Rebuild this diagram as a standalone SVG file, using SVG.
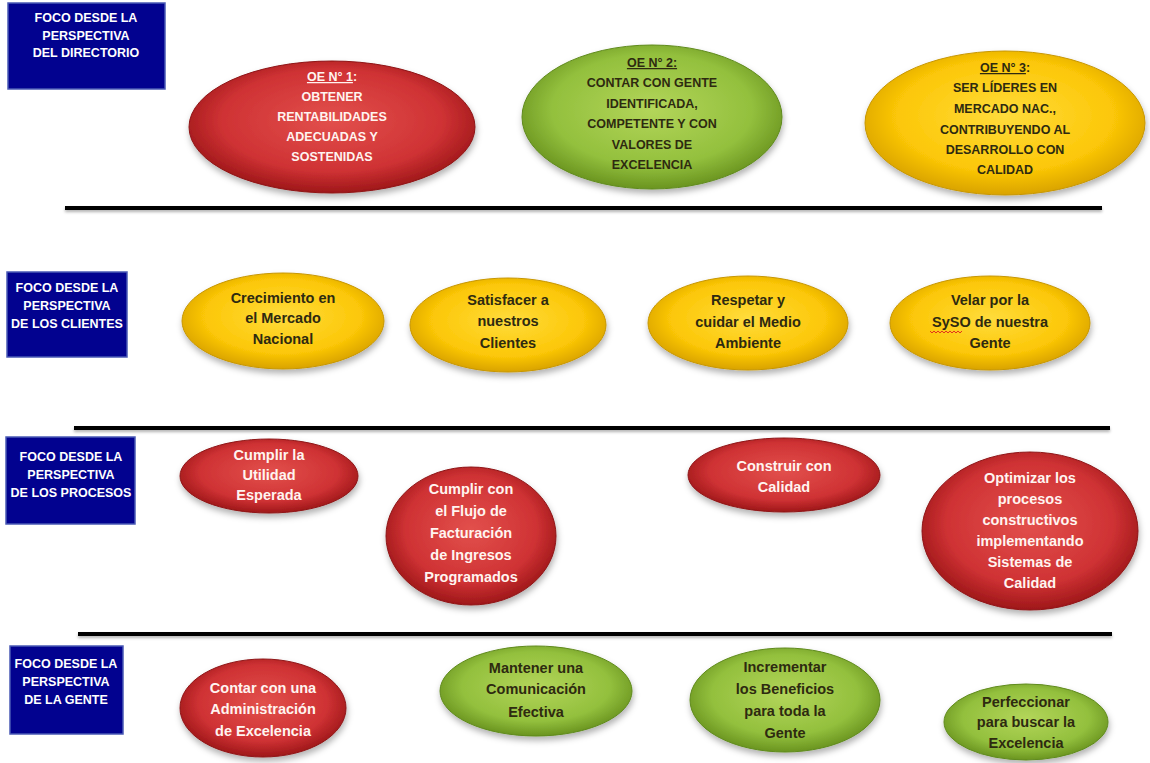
<svg xmlns="http://www.w3.org/2000/svg" width="1150" height="763" viewBox="0 0 1150 763">
<defs>
<radialGradient id="gRed" cx="50%" cy="45%" r="55%">
<stop offset="0" stop-color="#e2504c"/><stop offset="0.7" stop-color="#cf3234"/><stop offset="1" stop-color="#9e1719"/>
</radialGradient>
<radialGradient id="gGreen" cx="50%" cy="45%" r="55%">
<stop offset="0" stop-color="#b3d55a"/><stop offset="0.7" stop-color="#93c03d"/><stop offset="1" stop-color="#6a9420"/>
</radialGradient>
<radialGradient id="gYellow" cx="50%" cy="45%" r="55%">
<stop offset="0" stop-color="#ffdc3c"/><stop offset="0.7" stop-color="#fcc707"/><stop offset="1" stop-color="#d9a300"/>
</radialGradient>
<filter id="sh" x="-20%" y="-20%" width="140%" height="150%">
<feDropShadow dx="1" dy="4" stdDeviation="3" flood-color="#000" flood-opacity="0.3"/>
</filter>
<filter id="lsh" filterUnits="userSpaceOnUse" x="0" y="0" width="1150" height="763">
<feDropShadow dx="0" dy="2" stdDeviation="1.5" flood-color="#000" flood-opacity="0.3"/>
</filter>
</defs>
<style>
text{font-family:"Liberation Sans",Arial,sans-serif;font-weight:bold;text-anchor:middle}
.hdr rect{fill:#02028f;stroke:#4a5ab5;stroke-width:1.5}
.hdr text{fill:#ffffff;font-size:12.5px}
.red ellipse{fill:url(#gRed);stroke:#8e1416;stroke-width:1;filter:url(#sh)}
.green ellipse{fill:url(#gGreen);stroke:#5f8a1c;stroke-width:1;filter:url(#sh)}
.yellow ellipse{fill:url(#gYellow);stroke:#c79600;stroke-width:1;filter:url(#sh)}
.red text{fill:#fff4f0}
.green text,.yellow text{fill:#2e2a10}
.caps text{font-size:12.5px}
.low text{font-size:14.5px}
.sep rect{fill:#000;filter:url(#lsh)}
</style>
<rect width="1150" height="763" fill="#ffffff"/>

<g class="sep" id="separators">
<rect x="65" y="206" width="1037" height="4"/>
<rect x="74" y="426" width="1036" height="4"/>
<rect x="78" y="632" width="1034" height="4"/>
</g>

<g class="hdr" id="hdr-directorio">
<rect x="8" y="3" width="157" height="86"/>
<text x="86" y="22">FOCO DESDE  LA</text><text x="86" y="40">PERSPECTIVA</text><text x="86" y="57">DEL DIRECTORIO</text>
</g>
<g class="hdr" id="hdr-clientes">
<rect x="7" y="272" width="120" height="85"/>
<text x="67" y="292">FOCO DESDE  LA</text><text x="67" y="310">PERSPECTIVA</text><text x="67" y="328">DE LOS CLIENTES</text>
</g>
<g class="hdr" id="hdr-procesos">
<rect x="6" y="437" width="129" height="87"/>
<text x="71" y="461">FOCO DESDE  LA</text><text x="71" y="479">PERSPECTIVA</text><text x="71" y="497">DE LOS PROCESOS</text>
</g>
<g class="hdr" id="hdr-gente">
<rect x="10" y="646" width="113" height="88"/>
<text x="66" y="668">FOCO DESDE  LA</text><text x="66" y="686">PERSPECTIVA</text><text x="66" y="704">DE LA GENTE</text>
</g>

<g class="red caps" id="oe1">
<ellipse cx="332" cy="127" rx="143" ry="66"/>
<text x="332" y="81"><tspan text-decoration="underline">OE N° 1</tspan>:</text>
<text x="332" y="101">OBTENER</text><text x="332" y="121">RENTABILIDADES</text><text x="332" y="141">ADECUADAS  Y</text><text x="332" y="161">SOSTENIDAS</text>
</g>
<g class="green caps" id="oe2">
<ellipse cx="652" cy="117" rx="130" ry="72"/>
<text x="652" y="67"><tspan text-decoration="underline">OE N° 2:</tspan></text>
<text x="652" y="87">CONTAR CON GENTE</text><text x="652" y="108">IDENTIFICADA,</text><text x="652" y="128">COMPETENTE  Y CON</text><text x="652" y="149">VALORES DE</text><text x="652" y="169">EXCELENCIA</text>
</g>
<g class="yellow caps" id="oe3">
<ellipse cx="1005" cy="123" rx="140" ry="72"/>
<text x="1005" y="72"><tspan text-decoration="underline">OE N° 3</tspan>:</text>
<text x="1005" y="92">SER LÍDERES  EN</text><text x="1005" y="113">MERCADO  NAC.,</text><text x="1005" y="134">CONTRIBUYENDO  AL</text><text x="1005" y="154">DESARROLLO CON</text><text x="1005" y="174">CALIDAD</text>
</g>

<g class="yellow low" id="c1">
<ellipse cx="283" cy="321" rx="101" ry="48"/>
<text x="283" y="303">Crecimiento en</text><text x="283" y="323">el Mercado</text><text x="283" y="344">Nacional</text>
</g>
<g class="yellow low" id="c2">
<ellipse cx="508" cy="325" rx="98" ry="47"/>
<text x="508" y="305">Satisfacer  a</text><text x="508" y="326">nuestros</text><text x="508" y="348">Clientes</text>
</g>
<g class="yellow low" id="c3">
<ellipse cx="748" cy="323" rx="100" ry="47"/>
<text x="748" y="305">Respetar y</text><text x="748" y="327">cuidar  el Medio</text><text x="748" y="348">Ambiente</text>
</g>
<g class="yellow low" id="c4">
<ellipse cx="990" cy="323" rx="100" ry="47"/>
<text x="990" y="305">Velar por la</text><text x="990" y="327">SySO de nuestra</text><text x="990" y="348">Gente</text>
<path d="M930 331 l2 2 l2 -2 l2 2 l2 -2 l2 2 l2 -2 l2 2 l2 -2 l2 2 l2 -2 l2 2 l2 -2 l2 2 l2 -2 l2 2 l2 -2" fill="none" stroke="#e02020" stroke-width="0.9"/>
</g>

<g class="red low" id="p1">
<ellipse cx="269" cy="476" rx="89" ry="37"/>
<text x="269" y="460">Cumplir la</text><text x="269" y="480">Utilidad</text><text x="269" y="500">Esperada</text>
</g>
<g class="red low" id="p2">
<ellipse cx="471" cy="536" rx="85" ry="69"/>
<text x="471" y="494">Cumplir con</text><text x="471" y="516">el Flujo de</text><text x="471" y="538">Facturación</text><text x="471" y="560">de Ingresos</text><text x="471" y="582">Programados</text>
</g>
<g class="red low" id="p3">
<ellipse cx="784" cy="475" rx="96" ry="37"/>
<text x="784" y="471">Construir con</text><text x="784" y="492">Calidad</text>
</g>
<g class="red low" id="p4">
<ellipse cx="1030" cy="531" rx="108" ry="79"/>
<text x="1030" y="483">Optimizar los</text><text x="1030" y="504">procesos</text><text x="1030" y="525">constructivos</text><text x="1030" y="546">implementando</text><text x="1030" y="567">Sistemas de</text><text x="1030" y="588">Calidad</text>
</g>

<g class="red low" id="g1">
<ellipse cx="263" cy="708" rx="83" ry="49"/>
<text x="263" y="693">Contar con una</text><text x="263" y="714">Administración</text><text x="263" y="736">de Excelencia</text>
</g>
<g class="green low" id="g2">
<ellipse cx="536" cy="691" rx="96" ry="45"/>
<text x="536" y="673">Mantener una</text><text x="536" y="694">Comunicación</text><text x="536" y="717">Efectiva</text>
</g>
<g class="green low" id="g3">
<ellipse cx="785" cy="700" rx="95" ry="52"/>
<text x="785" y="672">Incrementar</text><text x="785" y="694">los Beneficios</text><text x="785" y="716">para toda la</text><text x="785" y="738">Gente</text>
</g>
<g class="green low" id="g4">
<ellipse cx="1026" cy="722" rx="82" ry="38"/>
<text x="1026" y="707">Perfeccionar</text><text x="1026" y="727">para buscar la</text><text x="1026" y="748">Excelencia</text>
</g>
</svg>
